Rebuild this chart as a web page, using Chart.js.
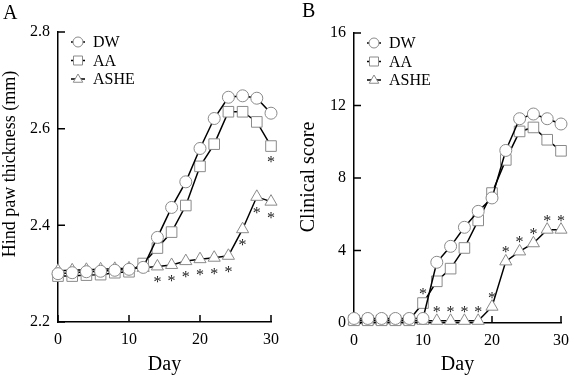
<!DOCTYPE html>
<html lang="en">
<head>
  <meta charset="UTF-8">
  <title>Hind paw thickness and clinical score</title>
  <script src="https://cdn.jsdelivr.net/npm/chart.js"></script>
  <style>
    body { margin: 0; background: #fff; }
    #wrap { position: relative; width: 577px; height: 377px; }
    #chartA { position: absolute; left: 0; top: 0; }
    #chartB { position: absolute; left: 288px; top: 0; }
  </style>
</head>
<body>
  <div id="wrap">
    <canvas id="chartA" width="288" height="377"></canvas>
    <canvas id="chartB" width="289" height="377"></canvas>
  </div>

  <script>
    // data
    var days = [0, 2, 4, 6, 8, 10, 12, 14, 16, 18, 20, 22, 24, 26, 28, 30];
    var groups = ['DW', 'AA', 'ASHE'];

    var pawDW   = [2.300, 2.302, 2.304, 2.305, 2.307, 2.309, 2.313, 2.375, 2.437, 2.490, 2.559, 2.621, 2.665, 2.668, 2.663, 2.632];
    var pawAA   = [2.295, 2.295, 2.297, 2.298, 2.302, 2.304, 2.321, 2.353, 2.386, 2.441, 2.522, 2.568, 2.635, 2.635, 2.614, 2.564];
    var pawASHE = [2.306, 2.307, 2.308, 2.309, 2.310, 2.311, 2.312, 2.315, 2.318, 2.326, 2.330, 2.333, 2.337, 2.392, 2.459, 2.449];

    var scoreDW   = [0.25, 0.25, 0.25, 0.25, 0.25, 0.25, 3.35, 4.23, 5.28, 6.16, 6.9, 9.52, 11.27, 11.53, 11.27, 10.98];
    var scoreAA   = [0.15, 0.15, 0.15, 0.15, 0.15, 1.1, 2.3, 3.0, 4.14, 5.66, 7.17, 9.0, 10.57, 10.79, 10.11, 9.5];
    var scoreASHE = [0.12, 0.12, 0.12, 0.12, 0.12, 0.12, 0.12, 0.12, 0.12, 0.12, 0.9, 3.4, 3.95, 4.4, 5.15, 5.15];

    // days marked with * (per group)
    var pawStars   = [[], [30], [14, 16, 18, 20, 22, 24, 26, 28, 30]];
    var scoreStars = [[], [10], [12, 14, 16, 18, 20, 22, 24, 26, 28, 30]];

    var dayTicks   = [0, 10, 20, 30];
    var pawTicks   = [2.2, 2.4, 2.6, 2.8];
    var scoreTicks = [0, 4, 8, 12, 16];

    var shapes = ['circle', 'rect', 'triangle'];
    var pointSizes = [6, 7.5, 7];
    var serif = "'Liberation Serif', 'Times New Roman', serif";

    Chart.defaults.font.family = serif;
    Chart.defaults.color = '#000';

    function makeSets(series) {
      return series.map(function (vals, i) {
        return {
          label: groups[i],
          data: days.map(function (d, j) { return { x: d, y: vals[j] }; }),
          borderColor: '#000',
          borderWidth: 1.5,
          pointStyle: shapes[i],
          pointRadius: pointSizes[i],
          pointHoverRadius: pointSizes[i],
          pointBorderColor: '#8a8a8a',
          pointBackgroundColor: '#fff',
          pointBorderWidth: 1,
          tension: 0,
          clip: false
        };
      });
    }

    function drawShape(ctx, shape, x, y, r) {
      ctx.beginPath();
      if (shape === 'circle') {
        ctx.arc(x, y, r, 0, Math.PI * 2);
      } else if (shape === 'rect') {
        ctx.rect(x - r, y - r, 2 * r, 2 * r);
      } else {
        ctx.moveTo(x, y - r);
        ctx.lineTo(x + r * 0.95, y + r * 0.65);
        ctx.lineTo(x - r * 0.95, y + r * 0.65);
        ctx.closePath();
      }
      ctx.fillStyle = '#fff';
      ctx.fill();
      ctx.strokeStyle = '#8a8a8a';
      ctx.lineWidth = 1;
      ctx.stroke();
    }

    // inward ticks, asterisks, legend, panel letter, y title
    var decor = {
      id: 'decor',
      beforeDatasetsDraw: function (chart) {
        var ctx = chart.ctx, a = chart.chartArea;
        var xs = chart.scales.x, ys = chart.scales.y;
        ctx.save();
        ctx.strokeStyle = '#000';
        ctx.lineWidth = 1.5;
        ctx.beginPath();
        xs.ticks.forEach(function (t) {
          var px = xs.getPixelForValue(t.value);
          ctx.moveTo(px, a.bottom);
          ctx.lineTo(px, a.bottom - 7);
        });
        ys.ticks.forEach(function (t) {
          var py = ys.getPixelForValue(t.value);
          ctx.moveTo(a.left, py);
          ctx.lineTo(a.left + 7, py);
        });
        ctx.stroke();
        ctx.restore();
      },
      afterDatasetsDraw: function (chart, args, opts) {
        var ctx = chart.ctx, a = chart.chartArea;
        ctx.save();

        // asterisks
        ctx.fillStyle = '#222';
        ctx.font = '16px ' + serif;
        ctx.textAlign = 'center';
        ctx.textBaseline = 'alphabetic';
        opts.stars.forEach(function (list, i) {
          var meta = chart.getDatasetMeta(i);
          days.forEach(function (d, j) {
            if (list.indexOf(d) < 0) return;
            var pt = meta.data[j];
            ctx.fillText('*', pt.x, pt.y + opts.starOffset + 8);
          });
        });

        // legend
        var lx = a.left + 20;
        chart.data.datasets.forEach(function (ds, i) {
          var ly = a.top + 10 + i * 18.5;
          ctx.strokeStyle = '#000';
          ctx.lineWidth = 1.5;
          ctx.beginPath();
          ctx.moveTo(lx - 7, ly);
          ctx.lineTo(lx + 7, ly);
          ctx.stroke();
          drawShape(ctx, ds.pointStyle, lx, ly, ds.pointStyle === 'rect' ? 4.5 : 5);
          ctx.fillStyle = '#000';
          ctx.font = '16px ' + serif;
          ctx.textAlign = 'left';
          ctx.textBaseline = 'middle';
          ctx.fillText(ds.label, lx + 15, ly + 1);
        });

        // panel letter
        ctx.font = '20px ' + serif;
        ctx.textAlign = 'left';
        ctx.textBaseline = 'alphabetic';
        ctx.fillText(opts.letter.text, opts.letter.x, opts.letter.y);

        // y axis title
        ctx.translate(opts.yTitle.x, opts.yTitle.y);
        ctx.rotate(-Math.PI / 2);
        ctx.font = opts.yTitle.size + 'px ' + serif;
        ctx.textAlign = 'center';
        ctx.textBaseline = 'middle';
        ctx.fillText(opts.yTitle.text, 0, 0);
        ctx.restore();
      }
    };

    function makeChart(id, series, yMin, yMax, yTicks, yFmt, axisWidth, axisHeight, pad, decorOpts) {
      return new Chart(document.getElementById(id), {
        type: 'line',
        data: { datasets: makeSets(series) },
        options: {
          responsive: false,
          animation: false,
          events: [],
          layout: { padding: pad },
          plugins: {
            legend: { display: false },
            tooltip: { enabled: false },
            decor: decorOpts
          },
          scales: {
            x: {
              type: 'linear',
              min: 0,
              max: 30,
              afterBuildTicks: function (s) { s.ticks = dayTicks.map(function (v) { return { value: v }; }); },
              afterFit: function (s) { s.height = axisHeight; },
              grid: { display: false, drawTicks: false },
              border: { display: true, color: '#000', width: 1.5 },
              ticks: { padding: 8, font: { size: 16 }, color: '#000' },
              title: { display: true, text: 'Day', font: { size: 20 }, padding: 0, color: '#000' }
            },
            y: {
              min: yMin,
              max: yMax,
              afterBuildTicks: function (s) { s.ticks = yTicks.map(function (v) { return { value: v }; }); },
              afterFit: function (s) { s.width = axisWidth; },
              grid: { display: false, drawTicks: false },
              border: { display: true, color: '#000', width: 1.5 },
              ticks: { padding: 8, font: { size: 16 }, color: '#000', callback: yFmt }
            }
          }
        },
        plugins: [decor]
      });
    }

    var chartA = makeChart('chartA', [pawDW, pawAA, pawASHE], 2.2, 2.8, pawTicks,
      function (v) { return v.toFixed(1); }, 58, 55,
      { left: 0, right: 17, top: 32, bottom: 0 },
      {
        stars: pawStars, starOffset: 13,
        letter: { text: 'A', x: 3, y: 19 },
        yTitle: { text: 'Hind paw thickness (mm)', size: 18, x: 10, y: 164 }
      });

    var chartB = makeChart('chartB', [scoreDW, scoreAA, scoreASHE], 0, 16, scoreTicks,
      function (v) { return String(v); }, 66, 54,
      { left: 0, right: 10, top: 33, bottom: 0 },
      {
        stars: scoreStars, starOffset: -12,
        letter: { text: 'B', x: 14, y: 17 },
        yTitle: { text: 'Clinical score', size: 20, x: 21, y: 177 }
      });
  </script>
</body>
</html>
